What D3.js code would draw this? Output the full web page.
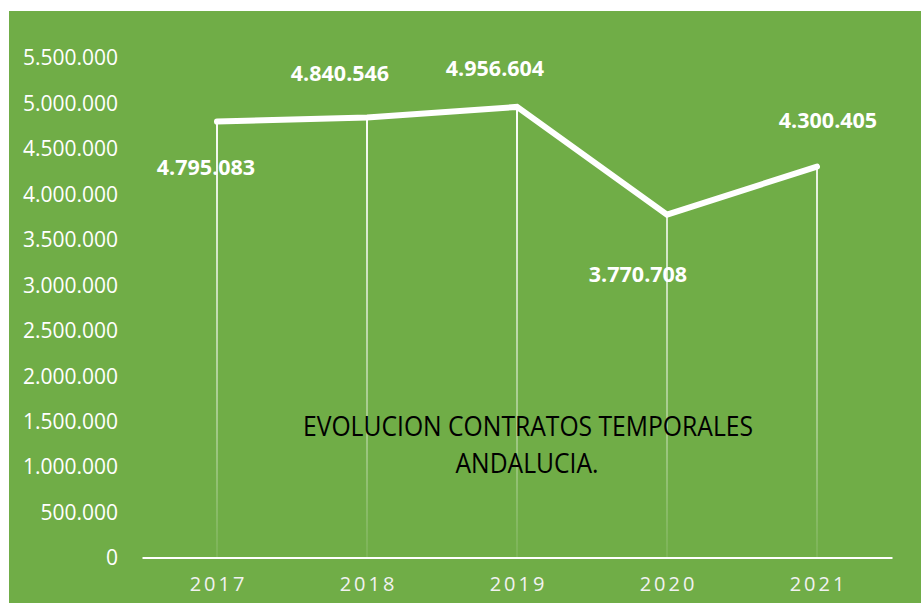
<!DOCTYPE html>
<html>
<head>
<meta charset="utf-8">
<script src="https://cdn.jsdelivr.net/npm/d3@7"></script>
<style>
  html, body { margin: 0; padding: 0; background: #ffffff; }
  svg { display: block; }
</style>
</head>
<body>
<svg id="chart" width="921" height="603"></svg>
<script>
// Temporary contracts signed in Andalusia, per year
const years = ["2017", "2018", "2019", "2020", "2021"];
const contracts = [4795083, 4840546, 4956604, 3770708, 4300405];
const yTicks = [0, 500000, 1000000, 1500000, 2000000, 2500000, 3000000, 3500000, 4000000, 4500000, 5000000, 5500000];
const titleLines = ["EVOLUCION CONTRATOS TEMPORALES", "ANDALUCIA."];

// Label offsets relative to each point (dx, dy)
const labelOffsets = [[-11, 45], [-27, -45], [-22, -39], [-29, 59], [11, -47]];

const W = 921, H = 603;
const green = "#70AD47";
const svg = d3.select("#chart");

const locale = d3.formatLocale({ decimal: ",", thousands: ".", grouping: [3], currency: ["", ""] });
const fmt = locale.format(",d");

// Chart area background
svg.append("rect")
  .attr("x", 9).attr("y", 11)
  .attr("width", W - 9).attr("height", H - 11)
  .attr("fill", green);

const x = d3.scaleBand().domain(years).range([142, 892]);
const y = d3.scaleLinear().domain([0, 5500000]).range([557.5, 57.5]);
const cx = d => x(d) + x.bandwidth() / 2;

// Fading gradient for the drop lines
const defs = svg.append("defs");
const grad = defs.append("linearGradient")
  .attr("id", "dropFade")
  .attr("gradientUnits", "userSpaceOnUse")
  .attr("x1", 0).attr("x2", 0)
  .attr("y1", y(5000000)).attr("y2", y(0));
grad.append("stop").attr("offset", "0%").attr("stop-color", "#ffffff").attr("stop-opacity", 1);
grad.append("stop").attr("offset", "55%").attr("stop-color", "#ffffff").attr("stop-opacity", 0.5);
grad.append("stop").attr("offset", "100%").attr("stop-color", "#ffffff").attr("stop-opacity", 0.08);

// Y axis tick labels
const yAxis = svg.append("g")
  .attr("transform", "translate(118,0)")
  .call(d3.axisLeft(y).tickValues(yTicks).tickFormat(fmt).tickSize(0).tickPadding(0));
yAxis.select(".domain").remove();
yAxis.selectAll("text")
  .attr("fill", "#ffffff")
  .attr("font-family", "'Open Sans', sans-serif")
  .attr("font-size", 21)
  .attr("dy", "0.35em");

// Drop lines from each point to the baseline
svg.append("g").selectAll("line")
  .data(years)
  .join("line")
  .attr("x1", d => cx(d)).attr("x2", d => cx(d))
  .attr("y1", (d, i) => y(contracts[i])).attr("y2", y(0))
  .attr("stroke", "url(#dropFade)")
  .attr("stroke-width", 2);

// Baseline (x axis)
const xAxis = svg.append("g")
  .attr("transform", `translate(0,${y(0)})`)
  .call(d3.axisBottom(x).tickSize(0).tickPadding(20));
xAxis.select(".domain")
  .attr("stroke", "#ffffff")
  .attr("stroke-width", 2.2);
xAxis.selectAll("text")
  .attr("fill", "#f2f2f2")
  .attr("font-family", "'Open Sans', sans-serif")
  .attr("font-size", 20)
  .attr("letter-spacing", 3)
  .attr("dx", 1.5)
  .attr("dy", "0.68em");

// Series line
const line = d3.line().x((d, i) => cx(years[i])).y(d => y(d));
svg.append("path")
  .datum(contracts)
  .attr("d", line)
  .attr("fill", "none")
  .attr("stroke", "#ffffff")
  .attr("stroke-width", 6)
  .attr("stroke-linecap", "round")
  .attr("stroke-linejoin", "miter");

// Value labels
svg.append("g").selectAll("text")
  .data(contracts)
  .join("text")
  .attr("x", (d, i) => cx(years[i]) + labelOffsets[i][0])
  .attr("y", (d, i) => y(d) + labelOffsets[i][1])
  .attr("text-anchor", "middle")
  .attr("dominant-baseline", "central")
  .attr("fill", "#ffffff")
  .attr("font-family", "'Open Sans', sans-serif")
  .attr("font-weight", "bold")
  .attr("font-size", 21.5)
  .text(d => fmt(d));

// Title inside the plot
const title = svg.append("g")
  .attr("font-family", "'Open Sans', sans-serif")
  .attr("fill", "#000000")
  .attr("text-anchor", "middle");
title.append("text")
  .attr("x", 528).attr("y", 425)
  .attr("dominant-baseline", "central")
  .attr("font-size", 27)
  .attr("textLength", 450)
  .attr("lengthAdjust", "spacingAndGlyphs")
  .text(titleLines[0]);
title.append("text")
  .attr("x", 527).attr("y", 462)
  .attr("dominant-baseline", "central")
  .attr("font-size", 27)
  .attr("textLength", 143)
  .attr("lengthAdjust", "spacingAndGlyphs")
  .text(titleLines[1]);
</script>
</body>
</html>
